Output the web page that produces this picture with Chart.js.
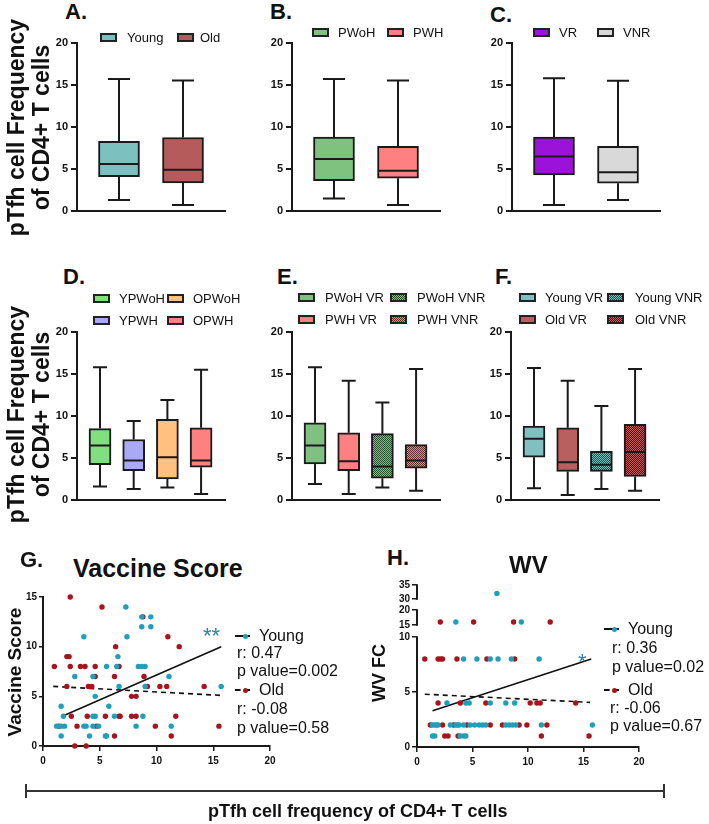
<!DOCTYPE html>
<html><head><meta charset="utf-8">
<script src="https://cdn.jsdelivr.net/npm/chart.js@4.4.1/dist/chart.umd.min.js"></script>
<style>
body{margin:0;width:709px;height:824px;position:relative;background:#fff;font-family:'Liberation Sans',Arial,sans-serif;overflow:hidden;color:#111}
.abs{position:absolute;white-space:nowrap;line-height:1}
.wrap{position:absolute}
.lb{position:absolute;width:13px;height:5px;border:2px solid #222}
</style></head><body>
<script>
// ---------- DATA ----------
const catsA = ['Young','Old'];
const minA=[1.3,0.7], q1A=[4.1,3.35], medA=[5.6,4.9], q3A=[8.3,8.75], maxA=[15.7,15.55];
const catsB = ['PWoH','PWH'];
const minB=[1.5,0.7], q1B=[3.6,3.9], medB=[6.2,4.8], q3B=[8.8,7.7], maxB=[15.7,15.55];
const catsC = ['VR','VNR'];
const minC=[0.7,1.3], q1C=[4.3,3.3], medC=[6.5,4.6], q3C=[8.8,7.7], maxC=[15.8,15.5];
const catsD = ['YPWoH','YPWH','OPWoH','OPWH'];
const minD=[1.6,1.3,1.5,0.7], q1D=[4.2,3.5,2.5,3.9], medD=[6.5,4.7,5.1,4.7], q3D=[8.5,7.2,9.6,8.6], maxD=[15.8,9.4,11.9,15.5];
const catsE = ['PWoH VR','PWH VR','PWoH VNR','PWH VNR'];
const minE=[1.9,0.7,1.5,1.1], q1E=[4.3,3.5,2.6,3.8], medE=[6.5,4.6,4.0,4.7], q3E=[9.2,8.0,7.9,6.6], maxE=[15.8,14.2,11.6,15.6];
const catsF = ['Young VR','Old VR','Young VNR','Old VNR'];
const minF=[1.4,0.6,1.3,1.1], q1F=[5.1,3.4,3.4,2.8], medF=[7.3,4.5,4.2,5.7], q3F=[8.8,8.6,5.8,9.0], maxF=[15.7,14.2,11.2,15.6];

const boxTicks = [0,5,10,15,20];

// G: Vaccine Score vs pTfh
const gYoungX=[7.3,8.7,9.5,8.7,9.5,3.6,7.4,6.6,5.6,6.5,8.4,8.7,9.0,2.8,4.4,11.1,6.7,9.0,15.7,4.6,1.6,5.8,1.8,4.4,4.6,6.3,8.8,1.2,1.6,1.9,3.6,3.8,4.4,4.9,8.2,11.3,1.6,4.1,5.5,5.6];
const gYoungY=[14,13,13,12,12,11,11,9,8,8,8,8,8,7,7,7,6,6,6,5,4,4,3,3,3,3,3,2,2,2,2,2,2,2,2,2,1,1,1,1];
const gOldX=[2.4,5.2,8.8,11.0,12.0,6.4,2.1,2.3,1.0,2.4,3.3,3.7,4.6,6.7,4.6,6.3,8.9,2.1,4.0,4.3,9.2,10.3,10.9,14.2,7.8,8.2,2.5,3.9,5.5,6.7,6.8,7.8,8.2,11.7,1.4,3.0,4.7,9.9,15.5,6.3,11.3,2.8,3.8];
const gOldY=[15,14,13,11,10,10,9,9,8,8,8,8,8,8,7,7,7,6,6,6,6,6,6,6,5,5,3,3,3,3,3,3,3,3,2,2,2,2,2,1,1,0,0];
const gYoungFitX=[1.9,15.7], gYoungFitY=[3.1,10.0];
const gOldFitX=[0.9,15.6], gOldFitY=[6.0,5.1];

// H: WV FC vs pTfh
const hYoungX=[7.2,3.5,9.4,4.2,5.4,6.6,7.3,8.5,11.0,2.7,4.4,4.7,6.6,8.0,8.8,1.4,1.6,1.75,1.9,3.0,3.5,3.65,3.8,4.2,4.8,5.2,5.6,5.9,6.2,8.0,8.3,8.6,8.9,11.2,15.8,1.4,1.6,3.9,4.2,4.4];
const hYoungY=[32,16,16,8,8,8,8,8,8,4,4,4,4,4,4,2,2,2,2,2,2,2,2,2,2,2,2,2,2,2,2,2,2,2,2,1,1,1,1,1];
const hOldX=[2.1,5.1,8.7,12.0,0.7,1.9,2.1,2.3,3.6,6.3,8.8,1.9,3.9,6.2,10.2,10.8,11.1,14.3,1.2,2.3,3.3,4.5,6.6,7.7,9.2,9.9,11.7,2.5,2.8,3.7,11.2,15.5];
const hOldY=[16,16,16,16,8,8,8,8,8,8,8,4,4,4,4,4,4,4,2,2,2,2,2,2,2,2,2,1,1,1,1,1];
const hYoungFitX=[1.4,15.7], hYoungFitY=[3.3,8.0];
const hOldFitX=[0.7,15.6], hOldFitY=[4.8,4.06];
const hTicksLow=[0,5,10], hTicksMid=[15,20], hTicksHigh=[30,35];
const scatTicksX=[0,5,10,15,20];

// ---------- STYLE ----------
const CYAN='#1f9fb9', RED='#a8141b', STAR='#2d7fae', INK='#1a1a1a';
Chart.defaults.font.family="'Liberation Sans', Arial, sans-serif";
Chart.defaults.color='#111';
Chart.defaults.animation=false;
Chart.defaults.plugins.legend.display=false;
Chart.defaults.plugins.tooltip.enabled=false;

function pattern(light, dark){
  const c=document.createElement('canvas'); c.width=2; c.height=2;
  const x=c.getContext('2d'); x.fillStyle=light; x.fillRect(0,0,2,2);
  x.fillStyle=dark; x.fillRect(0,0,1,1); x.fillRect(1,1,1,1);
  return x.createPattern(c,'repeat');
}
function cssPat(light,dark){return `repeating-conic-gradient(${dark} 0 25%, ${light} 0 50%) 0 0/2px 2px`;}

function wrap(left,top,w,h){
  const d=document.createElement('div'); d.className='wrap';
  d.style.cssText=`left:${left}px;top:${top}px;width:${w}px;height:${h}px`;
  const c=document.createElement('canvas'); d.appendChild(c); document.body.appendChild(d); return c;
}
function txt(s,x,y,size,o={}){
  const d=document.createElement('div'); d.className='abs'; d.textContent=s;
  d.style.left=x+'px'; d.style.top=(y-size/2)+'px'; d.style.fontSize=size+'px';
  if(o.bold) d.style.fontWeight='bold';
  if(o.color) d.style.color=o.color;
  document.body.appendChild(d); return d;
}
function vtitle(lines,cx,cy,size,lh){
  const d=document.createElement('div'); d.className='abs';
  const h=lh*lines.length;
  d.style.cssText+=`font-size:${size}px;font-weight:bold;line-height:${lh}px;text-align:center;width:300px;height:${h}px;left:${cx-150}px;top:${cy-h/2}px;transform:rotate(-90deg)`;
  lines.forEach(l=>{const e=document.createElement('div'); e.textContent=l; d.appendChild(e);});
  document.body.appendChild(d);
}
function lbox(x,y,bg){
  const d=document.createElement('div'); d.className='lb';
  d.style.left=x+'px'; d.style.top=(y-4.5)+'px'; d.style.background=bg;
  document.body.appendChild(d);
}
function glyph(x,y,color,dashed){
  const l=document.createElement('div');
  l.style.cssText=`position:absolute;left:${x}px;top:${y-1}px;width:15px;height:0;border-top:2px ${dashed?'dashed':'solid'} #111`;
  const p=document.createElement('div');
  p.style.cssText=`position:absolute;left:${x+8}px;top:${y-2.5}px;width:5px;height:5px;border-radius:50%;background:${color}`;
  document.body.appendChild(l); document.body.appendChild(p);
}

// ---------- BOX PLOTS ----------
const boxPlugin={
  id:'boxWhisk',
  afterDatasetsDraw(chart){
    const ds=chart.data.datasets[0], st=ds.stats; if(!st) return;
    const y=chart.scales.y, ctx=chart.ctx, meta=chart.getDatasetMeta(0);
    ctx.save(); ctx.strokeStyle=INK; ctx.lineWidth=2;
    meta.data.forEach((bar,i)=>{
      const {x,width}=bar.getProps(['x','width'],true);
      const pMin=y.getPixelForValue(st.min[i]), pMax=y.getPixelForValue(st.max[i]);
      const pQ1=y.getPixelForValue(st.q1[i]), pQ3=y.getPixelForValue(st.q3[i]), pMed=y.getPixelForValue(st.med[i]);
      const cap=Math.max(7,width*0.27);
      ctx.beginPath();
      ctx.moveTo(x,pQ3); ctx.lineTo(x,pMax);
      ctx.moveTo(x-cap,pMax); ctx.lineTo(x+cap,pMax);
      ctx.moveTo(x,pQ1); ctx.lineTo(x,pMin);
      ctx.moveTo(x-cap,pMin); ctx.lineTo(x+cap,pMin);
      ctx.moveTo(x-width/2+1,pMed); ctx.lineTo(x+width/2-1,pMed);
      ctx.stroke();
    });
    ctx.restore();
  }
};

function boxChart(axisLeft,axisTop,cats,st,colors,xmin,xmax,thick){
  const c=wrap(axisLeft-40,axisTop-10,40+148+10,10+168+2+8);
  new Chart(c,{
    type:'bar',
    data:{datasets:[{
      data:cats.map((n,i)=>({x:i+1,y:[st.q1[i],st.q3[i]]})),
      backgroundColor:colors,borderColor:INK,borderWidth:2,borderSkipped:false,
      barThickness:thick,stats:st
    }]},
    options:{
      responsive:true,maintainAspectRatio:false,
      layout:{padding:{top:10,right:10,bottom:8,left:0}},
      scales:{
        x:{type:'linear',offset:false,min:xmin,max:xmax,ticks:{display:false},grid:{display:false,offset:false},
           border:{display:true,color:INK,width:2},afterFit:s=>{s.height=2;}},
        y:{min:0,max:20,afterBuildTicks:s=>{s.ticks=boxTicks.map(v=>({value:v}));},
           ticks:{font:{size:11,weight:'bold'},padding:3,color:'#111',autoSkip:false},
           grid:{drawOnChartArea:false,tickLength:6,color:INK,lineWidth:2},
           border:{display:true,color:INK,width:2},afterFit:s=>{s.width=40;}}
      }
    },
    plugins:[boxPlugin]
  });
}
const S=(min,q1,med,q3,max)=>({min,q1,med,q3,max});
const top2=[0.344,2.656], mid4=[0.317,4.71];
boxChart(77,43,catsA,S(minA,q1A,medA,q3A,maxA),['#7cc0c0','#b55b5b'],top2[0],top2[1],41);
boxChart(292,43,catsB,S(minB,q1B,medB,q3B,maxB),['#7fc17f','#ff8080'],top2[0],top2[1],41);
boxChart(512,43,catsC,S(minC,q1C,medC,q3C,maxC),['#9b12d9','#d9d9d9'],top2[0],top2[1],41);
boxChart(77,332,catsD,S(minD,q1D,medD,q3D,maxD),['#80e080','#a9a9f5','#ffc080','#ff8080'],mid4[0],mid4[1],22);
boxChart(292,332,catsE,S(minE,q1E,medE,q3E,maxE),['#80c080','#ff8080',pattern('#80c080','#24502a'),pattern('#ff8080','#6e2a2a')],mid4[0],mid4[1],22);
boxChart(511,332,catsF,S(minF,q1F,medF,q3F,maxF),['#80c0c0','#b86060',pattern('#80c0c0','#1f4d4d'),pattern('#b86060','#4a1616')],mid4[0],mid4[1],22);

// ---------- SCATTER G ----------
const pts=(xs,ys)=>xs.map((x,i)=>({x,y:ys[i]}));
const axisCommon=(size)=>({
  ticks:{font:{size,weight:'bold'},color:'#111',autoSkip:false},
  grid:{drawOnChartArea:false,tickLength:4,color:INK,lineWidth:1.5},
  border:{display:true,color:INK,width:2}
});
function scatX(){
  const a=axisCommon(10);
  return {type:'linear',min:0,max:20,afterBuildTicks:s=>{s.ticks=scatTicksX.map(v=>({value:v}));},
    ticks:{...a.ticks,padding:4},grid:{...a.grid,tickLength:5},border:a.border,afterFit:s=>{s.height=22;}};
}
const ptStyle=(col)=>({backgroundColor:col,borderWidth:0,pointRadius:2.7,pointHoverRadius:2.7,clip:6});
const fitStyle=(dash)=>({showLine:true,borderColor:'#111',borderWidth:1.6,pointRadius:0,borderDash:dash,clip:6});

(function(){
  const c=wrap(3,587,279,185);
  const a=axisCommon(10);
  new Chart(c,{
    type:'scatter',
    data:{datasets:[
      {data:pts(gYoungX,gYoungY),...ptStyle(CYAN)},
      {data:pts(gOldX,gOldY),...ptStyle(RED)},
      {data:pts(gYoungFitX,gYoungFitY),...fitStyle([])},
      {data:pts(gOldFitX,gOldFitY),...fitStyle([5,4])}
    ]},
    options:{responsive:true,maintainAspectRatio:false,
      layout:{padding:{top:10,right:12,bottom:4,left:0}},
      scales:{
        x:scatX(),
        y:{min:0,max:15,afterBuildTicks:s=>{s.ticks=[0,5,10,15].map(v=>({value:v}));},
           ticks:{...a.ticks,padding:2},grid:a.grid,border:a.border,afterFit:s=>{s.width=40;}}
      }}
  });
})();

// ---------- SCATTER H (broken y axis) ----------
const segAxisPlugin={
  id:'segAxis',
  afterDraw(chart){
    const ctx=chart.ctx; ctx.save(); ctx.strokeStyle=INK; ctx.lineWidth=2;
    ['yLow','yMid','yHigh'].forEach(id=>{
      const s=chart.scales[id], t=s.ticks;
      const y1=s.getPixelForValue(t[0].value), y2=s.getPixelForValue(t[t.length-1].value);
      const x=s.right;
      ctx.beginPath(); ctx.moveTo(x,y1+(id==='yLow'?1:0.75)); ctx.lineTo(x,y2-0.75); ctx.stroke();
    });
    ctx.restore();
  }
};
(function(){
  const c=wrap(377,575,274,198);
  const a=axisCommon(10);
  const inSeg=(xs,ys,lo,hi)=>pts(xs,ys).filter(p=>p.y>=lo&&p.y<=hi);
  const ySeg=(min,max,ticks,w)=>({type:'linear',position:'left',stack:'h',stackWeight:w,min,max,
    afterBuildTicks:s=>{s.ticks=ticks.map(v=>({value:v}));},
    ticks:{...a.ticks,padding:2},grid:{...a.grid,tickLength:5},border:{display:false},afterFit:s=>{s.width=40;}});
  new Chart(c,{
    type:'scatter',
    data:{datasets:[
      {data:inSeg(hYoungX,hYoungY,0,10.55),yAxisID:'yLow',...ptStyle(CYAN)},
      {data:inSeg(hYoungX,hYoungY,13,21.83),yAxisID:'yMid',...ptStyle(CYAN)},
      {data:inSeg(hYoungX,hYoungY,28,35),yAxisID:'yHigh',...ptStyle(CYAN)},
      {data:inSeg(hOldX,hOldY,0,10.55),yAxisID:'yLow',...ptStyle(RED)},
      {data:inSeg(hOldX,hOldY,13,21.83),yAxisID:'yMid',...ptStyle(RED)},
      {data:pts(hYoungFitX,hYoungFitY),yAxisID:'yLow',...fitStyle([])},
      {data:pts(hOldFitX,hOldFitY),yAxisID:'yLow',...fitStyle([5,4])}
    ]},
    options:{responsive:true,maintainAspectRatio:false,
      layout:{padding:{top:10,right:12,bottom:4,left:0}},
      scales:{
        x:scatX(),
        yLow:ySeg(0,10.55,hTicksLow,116),
        yMid:ySeg(13,21.83,hTicksMid,26.5),
        yHigh:ySeg(28.04,35,hTicksHigh,19.5)
      }},
    plugins:[segAxisPlugin]
  });
})();

// ---------- TEXT ----------
const yTitle=['pTfh cell Frequency','of CD4+ T cells'];
vtitle(yTitle,27.5,127,23,24.5);
vtitle(yTitle,27.5,414,23,24.5);
txt('A.',65,12,22,{bold:1}); txt('B.',270,12,22,{bold:1}); txt('C.',490,15,22,{bold:1});
txt('D.',63,277,22,{bold:1}); txt('E.',277,277,22,{bold:1}); txt('F.',495,277,22,{bold:1});

// top legends
lbox(100,37,'#7cc0c0'); txt(catsA[0],127,37,13); lbox(177,37,'#b55b5b'); txt(catsA[1],200,37,13);
lbox(312,32,'#7fc17f'); txt(catsB[0],338,32,13); lbox(387,32,'#ff8080'); txt(catsB[1],413,32,13);
lbox(533,32,'#9b12d9'); txt(catsC[0],559,32,13); lbox(597,32,'#d9d9d9'); txt(catsC[1],623,32,13);
// middle legends
lbox(93,298,'#80e080'); txt(catsD[0],119,298,13); lbox(167,298,'#ffc080'); txt(catsD[2],193,298,13);
lbox(93,320,'#a9a9f5'); txt(catsD[1],119,320,13); lbox(167,320,'#ff8080'); txt(catsD[3],193,320,13);
lbox(298,297,'#80c080'); txt(catsE[0],325,297,13); lbox(390,297,cssPat('#80c080','#24502a')); txt(catsE[2],417,297,13);
lbox(298,319,'#ff8080'); txt(catsE[1],325,319,13); lbox(390,319,cssPat('#ff8080','#6e2a2a')); txt(catsE[3],417,319,13);
lbox(519,297,'#80c0c0'); txt(catsF[0],545,297,13); lbox(607,297,cssPat('#80c0c0','#1f4d4d')); txt(catsF[2],635,297,13);
lbox(519,319,'#b86060'); txt(catsF[1],545,319,13); lbox(607,319,cssPat('#b86060','#4a1616')); txt(catsF[3],635,319,13);

// G texts
txt('G.',20,560,22,{bold:1});
txt('Vaccine Score',73,568,25,{bold:1});
vtitle(['Vaccine Score'],15,672,19,20);
txt('**',203,636,22,{color:STAR});
glyph(235,636,CYAN,false); txt('Young',259,636,16);
txt('r: 0.47',237,653,16); txt('p value=0.002',237,671,16);
glyph(235,690,RED,true); txt('Old',259,690,16);
txt('r: -0.08',237,709,16); txt('p value=0.58',237,728,16);

// H texts
txt('H.',387,558,22,{bold:1});
txt('WV',509,565,24,{bold:1});
vtitle(['WV FC'],379,673,18,20);
txt('*',578,662,22,{color:STAR});
glyph(604,629,CYAN,false); txt('Young',628,629,16);
txt('r: 0.36',612,648,16); txt('p value=0.02',612,667,16);
glyph(604,690,RED,true); txt('Old',628,690,16);
txt('r: -0.06',610,708,16); txt('p value=0.67',610,726,16);

// bottom bracket and shared x title
(function(){
  const mk=(css)=>{const d=document.createElement('div'); d.style.cssText='position:absolute;'+css; document.body.appendChild(d);};
  mk('left:26px;top:790px;width:638px;height:0;border-top:2px solid #333');
  mk('left:25px;top:784px;width:0;height:14px;border-left:2px solid #333');
  mk('left:663px;top:784px;width:0;height:14px;border-left:2px solid #333');
  const t=txt('pTfh cell frequency of CD4+ T cells',0,811,18,{bold:1});
  t.style.left=(358-t.offsetWidth/2)+'px';
})();
</script>
</body></html>
